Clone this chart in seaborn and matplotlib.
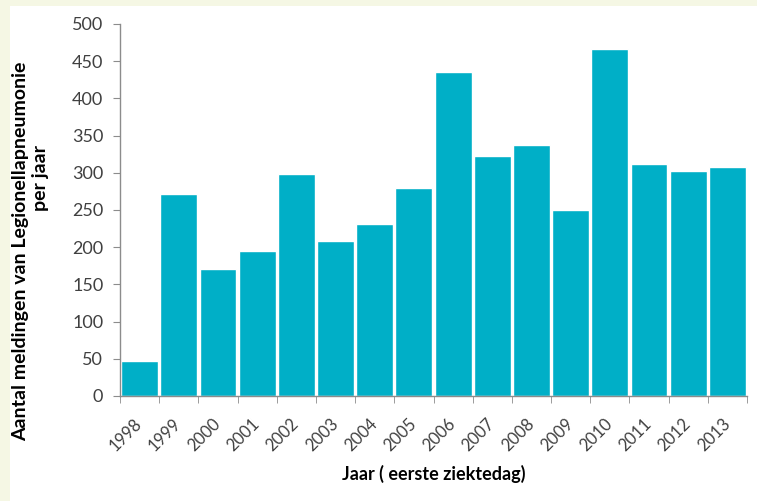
import matplotlib
import matplotlib.pyplot as plt
import seaborn as sns
import pandas as pd
from matplotlib.patches import Rectangle

matplotlib.use('Agg')

# --- Data ---
years = ['1998', '1999', '2000', '2001', '2002', '2003', '2004', '2005',
         '2006', '2007', '2008', '2009', '2010', '2011', '2012', '2013']
meldingen = [47, 272, 171, 195, 298, 208, 231, 280,
             435, 322, 337, 250, 466, 312, 303, 308]

bar_color = '#00AFC7'
cream = '#F5F7E4'
tick_grey = '#404040'
axis_grey = '#8C8C8C'

df = pd.DataFrame({'Jaar': years, 'Aantal': meldingen})

sns.set_style('white')
plt.rcParams['font.family'] = ['Lato', 'DejaVu Sans']

fig = plt.figure(figsize=(7.57, 5.01), dpi=100, facecolor=cream)
# white panel with cream border on the left and top
fig.patches.append(Rectangle((10 / 757, 0), 1, 1 - 6 / 501, transform=fig.transFigure,
                             facecolor='white', edgecolor='none', zorder=-5))

ax = fig.add_axes([120 / 757, 1 - 396 / 501, 627 / 757, 372 / 501])
ax.set_facecolor('white')

sns.barplot(data=df, x='Jaar', y='Aantal', color=bar_color, saturation=1,
            width=0.94, ax=ax)

ax.set_xlim(-0.5, len(years) - 0.5)
ax.set_ylim(0, 500)
ax.set_yticks(range(0, 501, 50))

for side in ['top', 'right']:
    ax.spines[side].set_visible(False)
for side in ['left', 'bottom']:
    ax.spines[side].set_color(axis_grey)
    ax.spines[side].set_linewidth(1.0)

# category boundary ticks like Excel
ax.set_xticks([i - 0.5 for i in range(len(years) + 1)], minor=True)
ax.tick_params(axis='x', which='major', length=0, pad=18)
ax.tick_params(axis='x', which='minor', length=5, color=axis_grey, direction='out', bottom=True)
ax.tick_params(axis='y', length=5, color=axis_grey, direction='out', left=True,
               labelsize=13, labelcolor=tick_grey, pad=7)
ax.set_xticks(range(len(years)))
ax.set_xticklabels(years, rotation=45, ha='right', va='center', rotation_mode='anchor',
                   fontsize=12, color=tick_grey)

ax.set_xlabel('Jaar ( eerste ziektedag)', fontsize=13, fontweight='bold',
              color='black', va='center')
ax.xaxis.set_label_coords(0.5, -0.21)

# y label drawn as two lines, placed separately like the original
ax.set_ylabel('Aantal meldingen van Legionellapneumonie', fontsize=14,
              fontweight='bold', color='black', va='center')
ax.yaxis.set_label_coords(-0.158, 0.390)
ax.text(-0.126, 0.586, 'per jaar', transform=ax.transAxes, rotation=90,
        ha='center', va='center', fontsize=14, fontweight='bold', color='black')
ax.grid(False)

fig.savefig('out.png', dpi=100, facecolor=cream)
